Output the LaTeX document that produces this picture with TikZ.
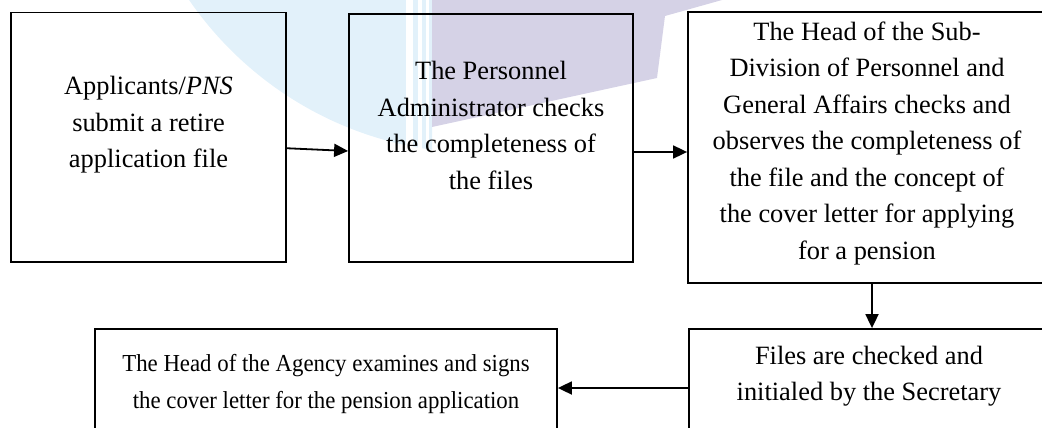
\documentclass[tikz,border=0pt]{standalone}
\usepackage{fontspec}
\setmainfont{Liberation Serif}
\newfontfamily\narrowserif[FakeStretch=0.935]{Liberation Serif}
\usetikzlibrary{arrows.meta}
\definecolor{wmblue}{HTML}{E2F1FA}
\definecolor{wmlav}{HTML}{D5D2E6}
\begin{document}
\begin{tikzpicture}[x=1pt,y=1pt,
  stepbox/.style={draw, line width=1.8pt, rectangle, inner sep=0pt},
  steptext/.style={align=center, font=\fontsize{26.4}{36.5}\selectfont, inner sep=0pt},
  narrowtext/.style={align=center, font=\narrowserif\fontsize{24.4}{36.8}\selectfont, inner sep=0pt},
  flow/.style={line width=1.8pt, -{Triangle[length=14pt,width=13pt]}}]
\useasboundingbox (0,0) rectangle (1042,-428);
\clip (0,0) rectangle (1042,-428);

% faint emblem behind the flow chart
\begin{scope}
  \clip (0,0) rectangle (432,-428);
  \fill[wmblue] (480,200) circle (353);
\end{scope}
\fill[white] (406,0) rectangle (413,-150);
\fill[white] (418,0) rectangle (422,-150);
\fill[white] (426,0) rectangle (429,-150);
\fill[wmlav] (432,0) -- (722,0) -- (665,-16) -- (657,-78) -- (432,-127) -- cycle;

% process boxes
\node[stepbox, minimum width=275pt, minimum height=249.5pt] (b1) at (148.5,-137.25) {};
\node[stepbox, minimum width=284pt, minimum height=248pt] (b2) at (491,-138) {};
\node[stepbox, minimum width=359pt, minimum height=271pt] (b3) at (867.5,-147.5) {};
\node[stepbox, minimum width=360pt, minimum height=121pt] (b4) at (869,-389.5) {};
\node[stepbox, minimum width=462pt, minimum height=121pt] (b5) at (326,-389.5) {};

% box texts
\node[steptext] (t1) at (148.5,-125) {Applicants/\textit{PNS}\\submit a retire\\application file};
\node[steptext] (t2) at (491,-125.5) {The Personnel\\Administrator checks\\the completeness of\\the files};
\node[steptext] (t3) at (867,-143.5) {The Head of the Sub-\\Division of Personnel and\\General Affairs checks and\\observes the completeness of\\the file and the concept of\\the cover letter for applying\\for a pension};
\node[steptext] (t4) at (869,-376) {Files are checked and\\initialed by the Secretary};
\node[narrowtext] (t5) at (326,-384) {The Head of the Agency examines and signs\\the cover letter for the pension application};

% connectors
\draw[flow] ([yshift=-11pt]b1.east) -- ([yshift=-13pt]b2.west);
\draw[flow] ([yshift=-14pt]b2.east) -- ([yshift=-14pt]b2.east -| b3.west);
\draw[flow] ([xshift=4.5pt]b3.south) -- ([xshift=4.5pt]b3.south |- b4.north);
\draw[flow] ([yshift=1.5pt]b4.west) -- ([yshift=1.5pt]b4.west -| b5.east);
\end{tikzpicture}
\end{document}
